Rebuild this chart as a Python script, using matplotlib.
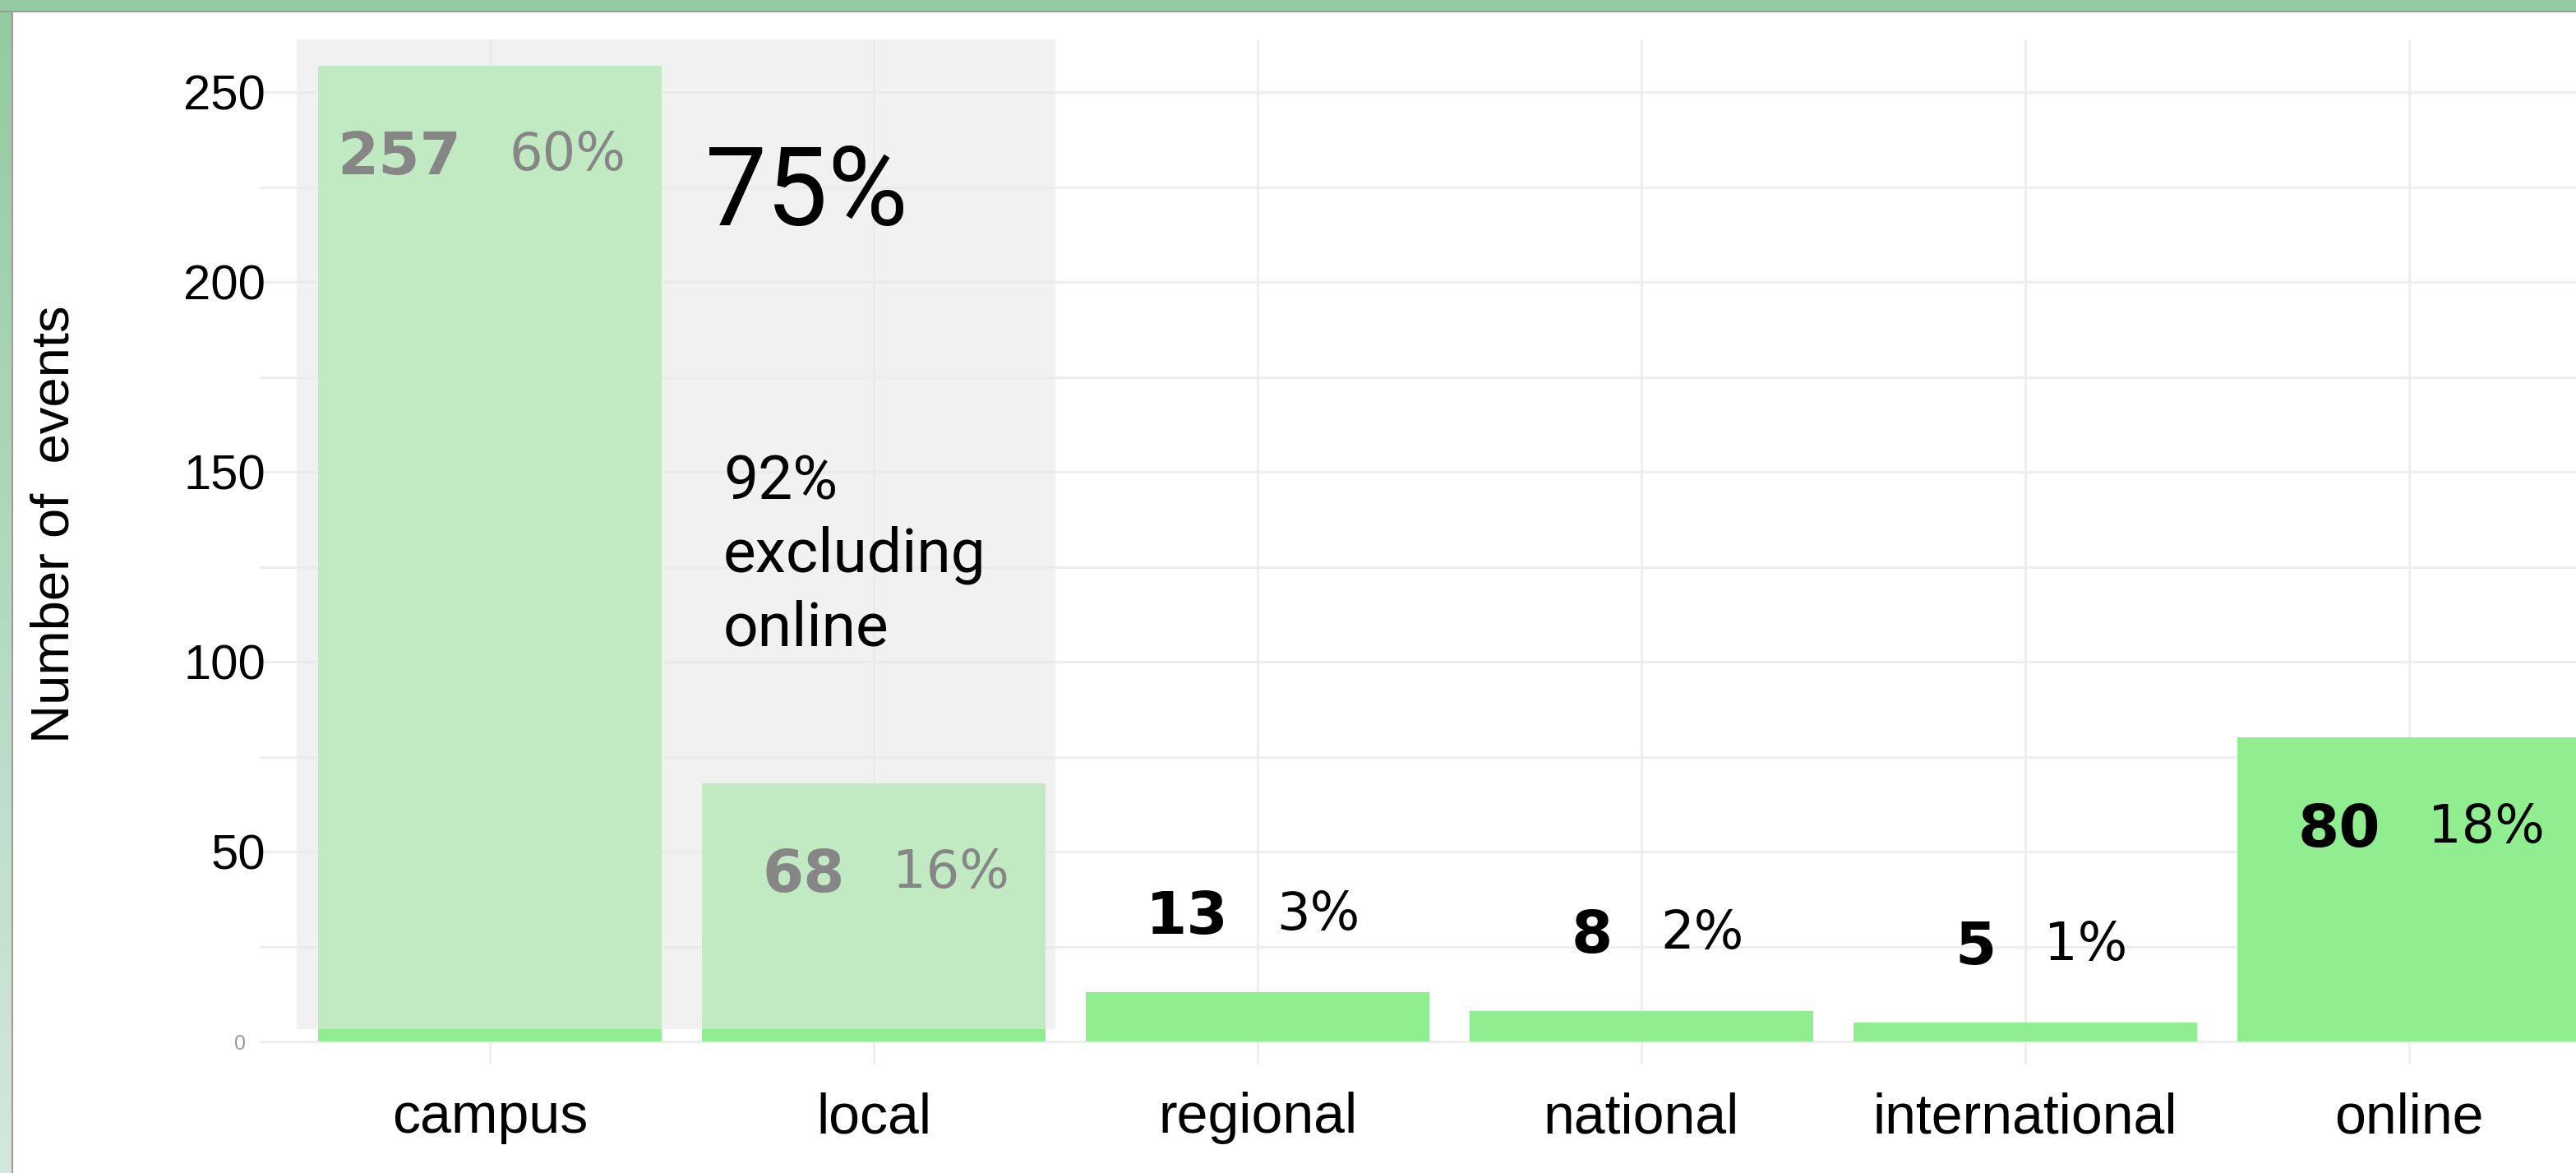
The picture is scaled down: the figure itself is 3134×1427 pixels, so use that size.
import numpy as np
import matplotlib.pyplot as plt
from matplotlib.patches import Rectangle
from matplotlib.lines import Line2D

categories = ['campus', 'local', 'regional', 'national', 'international', 'online']
events = [257, 68, 13, 8, 5, 80]
shares = ['60%', '16%', '3%', '2%', '1%', '18%']
y_ticks = [0, 50, 100, 150, 200, 250]
share_local = '75%'
share_local_offline = '92%\nexcluding\nonline'

W, H = 3134, 1427
plt.rcParams['font.family'] = ['Liberation Sans', 'DejaVu Sans']

fig = plt.figure(figsize=(W / 100, H / 100), dpi=100)
fig.patch.set_facecolor('white')

# green frame on the top and left edges
top_band = Rectangle((0, 1 - 13 / H), 1, 13 / H, transform=fig.transFigure,
                     facecolor='#93CBA3', edgecolor='none')
fig.add_artist(top_band)
bg = fig.add_axes([0, 0, 14 / W, 1 - 13 / H])
c_top = np.array([147, 203, 163]) / 255
c_bot = np.array([210, 232, 220]) / 255
t = np.linspace(0, 1, 200)[:, None, None]
bg.imshow(c_top * (1 - t) + c_bot * t, aspect='auto')
bg.axis('off')
fig.add_artist(Line2D([0, 1], [1 - 14 / H, 1 - 14 / H], transform=fig.transFigure,
                      color='#A39C90', lw=1.5))
fig.add_artist(Line2D([14.5 / W, 14.5 / W], [0, 1 - 14 / H], transform=fig.transFigure,
                      color='#A39C90', lw=1.5))

ax = fig.add_axes([316 / W, 1 - 1295 / H, 1 - 316 / W, (1295 - 48) / H])
x = np.arange(len(categories))
ax.bar(x, events, width=0.895, color='#90EE90', zorder=2)
ax.set_xlim(-0.6, 5.435)
ax.set_ylim(-6.06, 263.9)

ax.set_xticks(x, categories, fontsize=49)
ax.set_yticks(y_ticks, [str(v) for v in y_ticks], fontsize=43)
ax.set_yticks(np.arange(25, 275, 50), minor=True)
ax.tick_params(axis='both', which='both', length=0)
ax.tick_params(axis='x', pad=24)
ax.tick_params(axis='y', pad=-5)
zero = ax.get_yticklabels()[0]
zero.set_fontsize(18)
zero.set_color('#999999')
ax.yaxis.get_major_ticks()[0].set_pad(12)

ax.grid(True, which='both', color='#EEEEEE', linewidth=2.2)
ax.set_axisbelow(True)
for s in ax.spines.values():
    s.set_visible(False)

# counts and shares (drawn under the highlight, so campus/local turn grey)
for xi, v, s in zip(x, events, shares):
    y_top = v - 17 if v > 50 else v + 27
    ax.text(xi - 0.075, y_top, str(v), ha='right', va='top', fontsize=52,
            fontweight='bold', family='DejaVu Sans', color='black', zorder=3)
    ax.text(xi + 0.05, y_top, s, ha='left', va='top', fontsize=46,
            family='DejaVu Sans', color='black', zorder=3)

# highlight on campus + local
hl = Rectangle((x[0] - 0.503, 3.2), (x[1] + 0.473) - (x[0] - 0.503), 263.9 - 3.2,
               facecolor='#E8E8E8', alpha=0.58, edgecolor='none', zorder=4)
ax.add_patch(hl)
ax.text(0.56, 215, share_local, ha='left', va='baseline', fontsize=96,
        family='Roboto', zorder=5)
ax.text(0.608, 155, share_local_offline, ha='left', va='top', fontsize=54,
        family='Roboto', linespacing=1.32, zorder=5)

ax.set_ylabel('Number of  events', fontsize=47)
ax.yaxis.set_label_coords(97 / W, 1 - 638 / H, transform=fig.transFigure)

fig.savefig('out.png', dpi=100)
